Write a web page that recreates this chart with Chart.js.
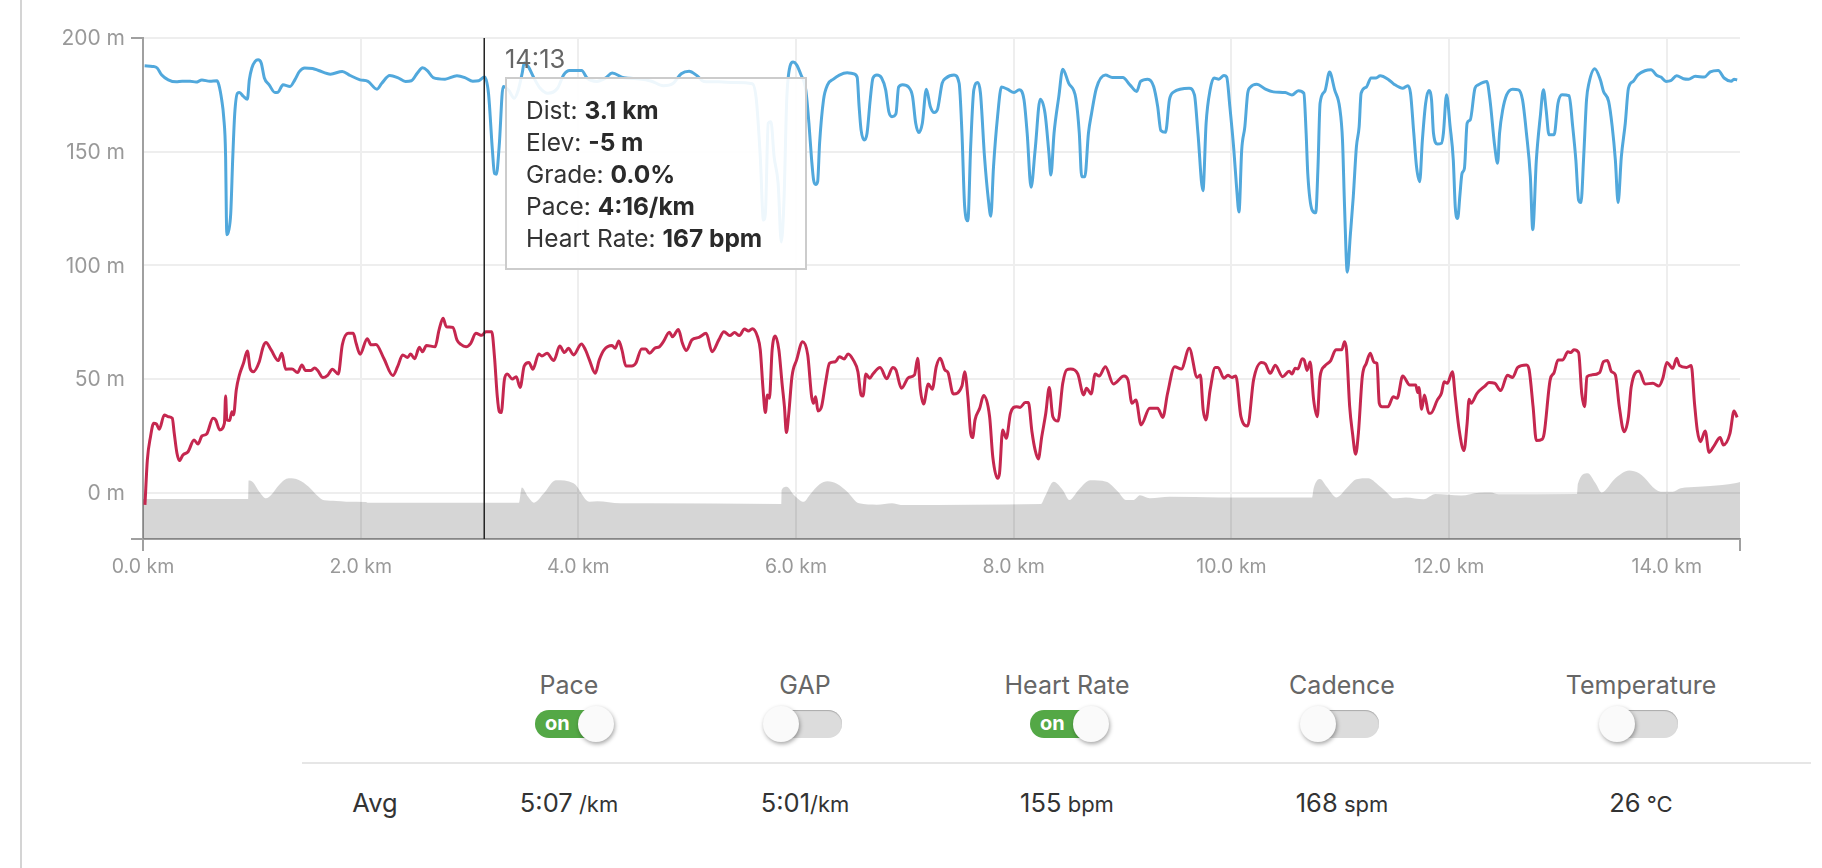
<!DOCTYPE html>
<html lang="en">

<head>
    <meta charset="UTF-8">
    <title>Run analysis</title>
    <script src="https://cdn.jsdelivr.net/npm/chart.js"></script>
    <style>
        html, body { margin: 0; padding: 0; background: #fff; }
        body { width: 1822px; height: 868px; overflow: hidden; position: relative; font-family: Inter, "Noto Sans", sans-serif; }
        #sideLine { position: absolute; left: 20px; top: 0; width: 2px; height: 868px; background: #d4d4d4; }
        #chartBox { position: absolute; left: 0; top: 0; width: 1822px; height: 600px; }
        #tipTime { position: absolute; left: 505px; top: 44px; font-size: 25.5px; line-height: 30px; color: #666; }
        #tip { position: absolute; left: 505px; top: 77px; width: 298px; height: 189px; padding: 0; background: rgba(255,255,255,0.9); border: 2px solid #ccc; color: #333; font-size: 24.5px; line-height: 32px; }
        #tip div { position: relative; left: 19px; top: 15px; white-space: nowrap; }
        #tip b { color: #2a2a2a; }
        .col { position: absolute; width: 240px; margin-left: -120px; text-align: center; white-space: nowrap; }
        .name { top: 670px; font-size: 25px; line-height: 30px; color: #666; }
        .val { top: 788px; font-size: 25.5px; line-height: 30px; color: #333; }
        .val small { font-size: 22px; }
        #rule { position: absolute; left: 302px; top: 762px; width: 1509px; height: 2px; background: #e6e6e6; }
        .pill { position: absolute; top: 710px; width: 76px; height: 28px; border-radius: 14px; background: #dcdcdc; box-shadow: inset 0 1px 1px #aaa; }
        .pill.on { background: #54a846; box-shadow: none; color: #fff; font-size: 20px; font-weight: 700; line-height: 27px; }
        .pill.on span { position: absolute; left: 10px; top: 0; }
        .knob { position: absolute; top: -4px; width: 36px; height: 36px; border-radius: 18px; background: #fafafa; box-shadow: 1px 2px 4px rgba(0,0,0,0.35); }
        .pill.on .knob { left: 43px; }
        .pill .knob { left: -3px; }
    </style>
</head>

<body>
    <div id="sideLine"></div>
    <div id="chartBox"><canvas id="runChart" width="1822" height="600"></canvas></div>
    <div id="tipTime"></div>
    <div id="tip"></div>
    <div id="rule"></div>
    <div id="table"></div>

    <script>
        // blue trace
        const paceKm = [0.015,0.087,0.13,0.17,0.232,0.305,0.36,0.432,0.487,0.541,0.614,0.679,0.697,0.723,0.741,0.759,0.766,0.77,0.788,0.806,0.825,0.843,0.868,0.886,0.923,0.959,0.977,1.0,1.03,1.057,1.086,1.115,1.159,1.213,1.242,1.286,1.351,1.395,1.438,1.485,1.558,1.613,1.722,1.831,1.903,1.994,2.067,2.15,2.194,2.267,2.339,2.412,2.466,2.521,2.568,2.612,2.666,2.775,2.884,2.957,3.03,3.084,3.138,3.174,3.21,3.229,3.247,3.272,3.309,3.36,3.41,3.447,3.484,3.502,3.538,3.592,3.647,3.72,3.81,3.865,3.92,4.03,4.08,4.17,4.25,4.31,4.418,4.563,4.672,4.781,4.872,4.945,5.017,5.09,5.152,5.29,5.435,5.598,5.635,5.671,5.7,5.718,5.744,5.769,5.798,5.835,5.864,5.889,5.914,5.944,5.973,6.005,6.045,6.089,6.118,6.143,6.161,6.18,6.198,6.216,6.252,6.289,6.343,6.398,6.47,6.525,6.561,6.579,6.597,6.627,6.652,6.681,6.706,6.743,6.786,6.823,6.852,6.881,6.917,6.942,6.979,7.033,7.07,7.099,7.128,7.16,7.197,7.233,7.269,7.298,7.342,7.378,7.451,7.498,7.524,7.549,7.578,7.604,7.633,7.669,7.694,7.731,7.767,7.789,7.814,7.851,7.887,7.941,8.003,8.05,8.094,8.123,8.159,8.196,8.243,8.287,8.323,8.341,8.37,8.414,8.45,8.504,8.57,8.602,8.624,8.653,8.686,8.715,8.759,8.842,8.904,9.002,9.067,9.129,9.165,9.231,9.285,9.322,9.351,9.394,9.43,9.467,9.612,9.66,9.692,9.738,9.767,9.804,9.84,9.884,9.931,9.956,9.985,10.022,10.047,10.069,10.094,10.123,10.149,10.174,10.232,10.312,10.385,10.494,10.556,10.614,10.665,10.686,10.701,10.741,10.774,10.795,10.814,10.857,10.901,10.948,10.995,11.02,11.039,11.064,11.093,11.119,11.148,11.173,11.191,11.239,11.282,11.329,11.366,11.438,11.493,11.573,11.62,11.645,11.675,11.7,11.729,11.754,11.784,11.813,11.838,11.856,11.892,11.929,11.947,11.976,12.009,12.038,12.056,12.078,12.1,12.118,12.14,12.165,12.194,12.237,12.267,12.346,12.375,12.419,12.445,12.463,12.492,12.528,12.583,12.637,12.674,12.71,12.746,12.768,12.801,12.837,12.866,12.891,12.917,12.964,13.0,13.037,13.102,13.135,13.164,13.189,13.211,13.236,13.262,13.284,13.338,13.389,13.418,13.465,13.498,13.527,13.552,13.582,13.618,13.647,13.691,13.734,13.799,13.854,13.909,13.945,13.992,14.036,14.09,14.152,14.199,14.261,14.344,14.399,14.472,14.526,14.591,14.617,14.646];
        const paceM = [187.8,187.5,186.8,183.8,181.6,180.7,181,181,180.6,181.5,181,181.2,179.4,172.8,165.4,147.8,121.3,113.5,115.4,122.8,147.8,166.9,175.7,176,174.3,173.1,181.6,186.8,189.7,190.4,189,182.4,179.4,176,176.2,179.4,178.7,181.6,185.3,186.8,186.6,185.7,184.1,185.3,183.5,181.6,180.9,177.5,180.1,183.5,182.6,180.9,181.2,184.6,186.9,185.7,182.6,181.9,183.4,182.6,181,181.2,182.8,175.7,150.7,140.4,140.1,152.2,178.7,177,173.5,177,184.6,189,187.5,182.4,178,175.7,178,183.8,185.7,185.7,182.4,180.9,182.4,184.6,182.5,182,181,179,180.1,184.3,185.4,183.4,180.9,180.7,180.4,179.9,172.8,147.8,119.9,122.8,162.5,163.2,147.8,136,110.3,128.7,172.8,187.5,189.4,188.2,183.8,177.2,162.5,146.3,137.5,135.6,136.8,153.7,172.8,179.4,181.9,183.7,184.7,184.3,182.8,169.9,159.6,155.1,158.1,172.8,182.4,183.7,182.4,177.2,167.6,165.4,166.6,178.4,179.4,178.4,174.3,162.5,158.4,162.5,177.5,169.9,167.2,168.4,180.1,182.4,183.7,180.1,158.1,125.7,119.6,152.2,177.2,180.4,175.7,147.8,128.7,121.6,143.4,165.4,178.4,177.5,176,177.2,172.8,158.1,134.3,150.7,173.1,166.9,149.3,139.7,158.1,174.3,186.3,180.1,173.5,158.1,139,139,158.1,166.9,177.9,183.7,182.6,182.6,179.4,176.5,180.9,181.9,178.7,169.9,159.3,158.5,172.8,176.2,177.9,175,158.1,132.8,162.5,177.2,182.4,181.9,183.5,182.8,169.9,150.7,134.3,123.5,150.7,161,175.7,178.4,179.7,177.5,176.3,176,174.9,176.8,175.7,158.1,140.4,124.3,123.1,143.4,171.3,176.5,185,177.2,169.1,155.1,125.7,97,113.9,130.1,152.2,161,175.7,178.4,182.4,182.4,183.4,181.9,179.7,177.9,179,175.7,158.1,143.4,136.8,155.1,171.3,176.9,172.8,158.1,153.4,153.7,158.1,175,161,146.3,125.7,120.6,131.6,140.4,142.6,162.5,164,177.9,179.4,180.9,172.8,152.2,144.9,158.1,168.4,175,177.5,177.2,172.8,158.1,139,115.7,146.3,165.4,177.2,168.4,157.4,157.4,171.3,175,174.6,161,146.3,128.7,127.6,147.8,172.8,180.1,186.5,181.6,176.5,172.1,161,146.3,127.6,147.8,162.5,177.9,180.9,183.8,185.6,186,183.5,182.8,180.9,181.2,183.4,182.1,181.9,183.2,182.8,185.1,185.7,182.4,181,181.9,181.5];

        // red trace
        const heartKm = [0.018,0.04,0.069,0.098,0.123,0.149,0.196,0.232,0.269,0.287,0.312,0.334,0.367,0.414,0.469,0.505,0.541,0.585,0.643,0.668,0.705,0.748,0.759,0.77,0.795,0.817,0.832,0.857,0.886,0.923,0.959,0.984,1.013,1.068,1.104,1.13,1.177,1.242,1.275,1.311,1.369,1.42,1.46,1.493,1.54,1.576,1.605,1.653,1.696,1.74,1.794,1.831,1.885,1.932,1.958,1.994,2.06,2.096,2.14,2.212,2.296,2.339,2.386,2.43,2.459,2.495,2.539,2.568,2.604,2.684,2.72,2.757,2.786,2.848,2.884,2.92,2.968,3.011,3.058,3.113,3.149,3.204,3.229,3.255,3.273,3.291,3.32,3.346,3.393,3.429,3.465,3.502,3.545,3.582,3.636,3.665,3.712,3.774,3.829,3.872,3.908,3.956,4.028,4.065,4.101,4.155,4.192,4.236,4.309,4.338,4.371,4.4,4.436,4.491,4.527,4.581,4.618,4.654,4.701,4.745,4.781,4.836,4.865,4.919,4.956,4.992,5.043,5.108,5.174,5.228,5.29,5.337,5.391,5.435,5.479,5.526,5.562,5.598,5.646,5.671,5.697,5.718,5.737,5.755,5.78,5.809,5.842,5.871,5.893,5.911,5.933,5.962,6.005,6.06,6.107,6.143,6.161,6.18,6.201,6.234,6.27,6.307,6.361,6.398,6.441,6.478,6.525,6.568,6.597,6.615,6.641,6.677,6.706,6.772,6.833,6.888,6.917,6.968,7.033,7.088,7.117,7.142,7.171,7.215,7.251,7.288,7.324,7.367,7.396,7.444,7.524,7.549,7.578,7.604,7.622,7.644,7.687,7.723,7.778,7.807,7.851,7.869,7.898,7.931,7.97,8.025,8.058,8.105,8.134,8.167,8.196,8.225,8.257,8.294,8.326,8.359,8.406,8.45,8.486,8.523,8.588,8.642,8.668,8.711,8.748,8.784,8.842,8.915,9.013,9.049,9.086,9.122,9.169,9.249,9.322,9.369,9.413,9.478,9.54,9.612,9.685,9.714,9.74,9.765,9.804,9.851,9.876,9.931,9.967,10.004,10.04,10.087,10.149,10.203,10.276,10.312,10.356,10.403,10.469,10.53,10.556,10.585,10.61,10.65,10.668,10.694,10.723,10.755,10.788,10.814,10.857,10.912,10.959,11.013,11.039,11.057,11.086,11.112,11.141,11.166,11.202,11.239,11.275,11.311,11.337,11.358,11.384,11.438,11.486,11.522,11.573,11.638,11.693,11.711,11.722,11.747,11.773,11.813,11.83,11.892,11.929,11.954,11.983,12.03,12.056,12.092,12.136,12.165,12.183,12.201,12.256,12.328,12.365,12.419,12.474,12.535,12.583,12.63,12.71,12.735,12.771,12.801,12.855,12.873,12.928,12.964,13.0,13.044,13.091,13.116,13.146,13.189,13.218,13.244,13.266,13.309,13.382,13.418,13.454,13.491,13.527,13.563,13.607,13.647,13.672,13.745,13.8,13.872,13.927,13.963,14.0,14.054,14.09,14.116,14.181,14.224,14.254,14.279,14.308,14.352,14.388,14.435,14.49,14.519,14.58,14.617,14.646];
        const heartM = [-5.4,14.4,24.6,30.5,30.2,27.9,34.2,33.4,32.7,26.1,17.3,14.1,16.6,18,23.2,21.4,24.9,25.8,32.7,32,27.6,30.5,42.5,32,31.7,35.6,34.2,45.2,51.8,56.9,62.3,54.7,53.2,57.6,64.2,66,62.8,58.1,61.3,54.3,54.4,52.8,56.2,53.7,53.7,54.8,53.7,50.6,51.6,54.3,52.2,65,70.1,70.1,65.7,60.9,67.7,65,65.2,59.1,51.5,55.4,60.6,59.5,61,58.9,63.9,62,64.7,64.2,71.6,76.7,73,72.7,67.2,65.2,64.2,65.7,70.1,69.2,70.8,70.8,59.8,42.2,35.6,35.2,49.6,52.2,50,51,46.3,55.7,57.2,54.3,61,60.1,61.3,58.1,64.5,61.6,63.5,60.6,65.4,62.8,58.4,52.5,58.4,62.8,64.7,63.5,66.7,62.8,55.7,55.7,56.9,63.2,63.2,61.3,63.5,64.2,66.4,70.5,68.6,71.8,65.7,62.5,67.2,68.3,70.1,62,67.2,70.8,69.1,70.4,69.1,72,71.1,72.1,68.6,62.8,45.2,35.2,43,41.5,62.8,68.9,62.8,48.1,37.8,26.4,34.9,51,58.4,66.4,60.6,42.2,39.3,42.2,35.9,37.8,48.1,56.9,57.6,59.8,58.8,61,58.4,53.2,43,42.5,52.2,50.3,52.2,55,50.1,55.1,54,45.9,50.6,51.8,59.1,45.2,39,47.8,45.5,55.4,59.1,54,52.8,43.4,46.9,53.2,42.2,26.1,24.2,32,37.1,42.7,33.4,15.8,6.3,8.5,27.6,23.9,34.9,37.8,37.5,39.6,39.6,26.8,18.8,14.8,24.6,34.9,46.2,33.4,31.5,48.1,54,54.4,52.2,43,45.9,43.4,52.2,51.3,55.4,47.8,51.3,49.6,39.3,40.8,29.8,37.1,37.1,33.1,43.7,55.4,54.4,63.5,50.7,51.8,36.4,32,45.2,55.1,55.1,50.3,51.6,50.7,51.3,33.4,29.3,49.6,57.3,56.6,52.5,56,51,53.4,52.2,54.7,54.4,58.9,58.4,53.7,57.5,40.8,33.4,51,55.7,58.1,62.8,62.8,66.4,62.8,37.8,26.1,16.9,26.1,51,56.9,61.3,57.3,56.9,39.3,37.8,37.8,42.2,41.5,51.3,47.4,47.4,44,46.3,36.7,43,34.9,34.9,40.8,43.7,48.8,48.1,53.2,42.2,27.6,18.5,30.5,41.1,39.3,43.7,46.9,48.4,48.1,44.9,51.6,50.7,55.1,56.2,54,37.8,22.9,23.5,26.1,49.6,52.8,58.4,58.4,62,61.6,62.8,61.6,43.7,37.8,51,51.8,52.8,57.6,58.1,53.2,51.8,37.8,26.8,33.4,46.3,53.5,47.8,48.1,46.9,50.3,57.3,54.7,59.1,55.9,55.1,55.9,39.3,27.6,22.4,27.1,17.7,20.7,24.2,21,26.1,35.9,33.1];

        // grey elevation area
        const elevKm = [0,0.966,0.97,1.013,1.068,1.13,1.177,1.25,1.34,1.431,1.522,1.595,1.667,1.776,1.867,2.049,2.067,3.454,3.48,3.538,3.592,3.683,3.792,3.956,4.101,4.174,4.385,4.636,5.864,5.867,5.914,5.98,6.071,6.125,6.216,6.289,6.379,6.47,6.579,6.743,6.881,6.961,8.25,8.286,8.366,8.45,8.512,8.595,8.704,8.85,8.958,9.031,9.104,9.158,9.249,9.431,9.895,10.741,10.755,10.814,10.875,10.966,11.057,11.148,11.257,11.348,11.42,11.493,11.602,11.765,11.874,12.11,12.274,12.383,12.455,13.175,13.182,13.273,13.345,13.4,13.527,13.654,13.745,13.945,14.054,14.126,14.29,14.508,14.624,14.672];
        const elevM = [-2.8,-2.8,5.3,4.5,0.4,-2.5,-1,3.4,6.3,5.6,2.6,-1,-3.4,-3.7,-4,-4.1,-4.5,-4.5,2.3,-1.8,-4.4,-0.3,5.4,4.1,-4,-3.8,-4.7,-4.7,-5,1.2,2.6,-1,-4,-1,3.7,5,3.8,0.4,-4.7,-5.3,-4.7,-5.4,-5,-1.8,4.8,1.2,-3.2,1.2,5.4,4.8,0.4,-3.2,-3.2,-1.2,-2.5,-1.8,-2.1,-2.1,1.9,6,2.6,-2.1,1.9,5.9,6.3,3.4,0.4,-2.5,-2.1,-2.9,-0.6,-1.3,0,0.1,-0.7,-0.6,3.8,8.5,4.1,0.1,6.3,9.7,8.5,0.4,0.4,1.9,2.6,3.4,4.1,4.7];

        const xTicks = [0, 2, 4, 6, 8, 10, 12, 14];
        const yTicks = [0, 50, 100, 150, 200];
        const xEnd = 14.672;
        const yBottom = -20.4;
        const hoverKm = 3.135;

        const tipTime = '14:13';
        const tipNames = ['Dist', 'Elev', 'Grade', 'Pace', 'Heart Rate'];
        const tipValues = ['3.1 km', '-5 m', '0.0%', '4:16/km', '167 bpm'];

        const columns = ['Pace', 'GAP', 'Heart Rate', 'Cadence', 'Temperature'];
        const columnOn = [true, false, true, false, false];
        const avgValues = ['5:07', '5:01', '155', '168', '26'];
        const avgUnits = [' /km', '/km', ' bpm', ' spm', ' °C'];
        const columnCenters = [569, 805, 1067, 1342, 1641];
        const pillLefts = [535, 766, 1030, 1303, 1602];

        const zip = (xs, ys) => xs.map((x, i) => ({ x: x, y: ys[i] }));

        const axisGrey = '#a0a0a0';
        const runChart = new Chart(document.getElementById('runChart'), {
            type: 'line',
            data: {
                datasets: [
                    {
                        label: 'Hover',
                        data: [{ x: hoverKm, y: yBottom }, { x: hoverKm, y: 200 }],
                        borderColor: '#222',
                        borderWidth: 1.5,
                        pointRadius: 0,
                        order: 0
                    },
                    {
                        label: 'Pace',
                        data: zip(paceKm, paceM),
                        borderColor: '#51a8dc',
                        borderWidth: 3,
                        pointRadius: 0,
                        cubicInterpolationMode: 'monotone',
                        borderJoinStyle: 'round',
                        order: 1
                    },
                    {
                        label: 'Heart Rate',
                        data: zip(heartKm, heartM),
                        borderColor: '#c5274f',
                        borderWidth: 3,
                        pointRadius: 0,
                        cubicInterpolationMode: 'monotone',
                        borderJoinStyle: 'round',
                        order: 2
                    },
                    {
                        label: 'Elevation',
                        data: zip(elevKm, elevM),
                        borderWidth: 0,
                        borderColor: 'transparent',
                        backgroundColor: 'rgba(0,0,0,0.16)',
                        fill: 'start',
                        pointRadius: 0,
                        cubicInterpolationMode: 'monotone',
                        order: 3
                    }
                ]
            },
            options: {
                responsive: false,
                animation: false,
                layout: { padding: { left: 0, top: 38, right: 82, bottom: 0 } },
                plugins: { legend: { display: false }, tooltip: { enabled: false } },
                events: [],
                scales: {
                    x: {
                        type: 'linear',
                        min: 0,
                        max: xEnd,
                        afterBuildTicks: s => { s.ticks = xTicks.concat([xEnd]).map(v => ({ value: v })); },
                        afterFit: s => { s.height = 61; },
                        border: { color: axisGrey, width: 2 },
                        grid: {
                            color: c => (c.tick && c.tick.value === xEnd ? 'transparent' : '#eeeeee'),
                            lineWidth: 2,
                            tickLength: 12,
                            tickWidth: 2,
                            tickColor: c => (c.tick && (c.tick.value === xEnd || c.tick.value === 0) ? axisGrey : 'transparent')
                        },
                        ticks: {
                            autoSkip: false,
                            maxRotation: 0,
                            padding: 4,
                            color: '#999',
                            font: { family: 'Inter', size: 19.5 },
                            callback: v => (v === xEnd ? '' : v.toFixed(1) + ' km')
                        }
                    },
                    y: {
                        min: yBottom,
                        max: 200,
                        afterBuildTicks: s => { s.ticks = [yBottom].concat(yTicks).map(v => ({ value: v })); },
                        afterFit: s => { s.width = 143; },
                        border: { color: axisGrey, width: 2 },
                        grid: {
                            color: c => (c.tick && c.tick.value === yBottom ? 'transparent' : '#eeeeee'),
                            lineWidth: 2,
                            tickLength: 12,
                            tickWidth: 2,
                            tickColor: c => (c.tick && (c.tick.value === yBottom || c.tick.value === 200) ? axisGrey : 'transparent')
                        },
                        ticks: {
                            autoSkip: false,
                            padding: 6,
                            labelOffset: 1,
                            color: '#999',
                            font: { family: 'Inter', size: 21 },
                            callback: v => (v === yBottom ? '' : v + ' m')
                        }
                    }
                }
            }
        });

        // hover box
        document.getElementById('tipTime').textContent = tipTime;
        document.getElementById('tip').innerHTML = tipNames.map((n, i) => '<div>' + n + ': <b>' + tipValues[i] + '</b></div>').join('');

        // toggles and averages under the chart
        document.getElementById('table').innerHTML = columns.map((name, i) => {
            const cx = columnCenters[i];
            const pill = columnOn[i]
                ? '<div class="pill on" style="left:' + pillLefts[i] + 'px"><span>on</span><div class="knob"></div></div>'
                : '<div class="pill" style="left:' + pillLefts[i] + 'px"><div class="knob"></div></div>';
            return '<div class="col name" style="left:' + cx + 'px">' + name + '</div>' + pill +
                '<div class="col val" style="left:' + cx + 'px">' + avgValues[i] + '<small>' + avgUnits[i] + '</small></div>';
        }).join('') + '<div class="col val" style="left:375px">Avg</div>';
    </script>
</body>

</html>
